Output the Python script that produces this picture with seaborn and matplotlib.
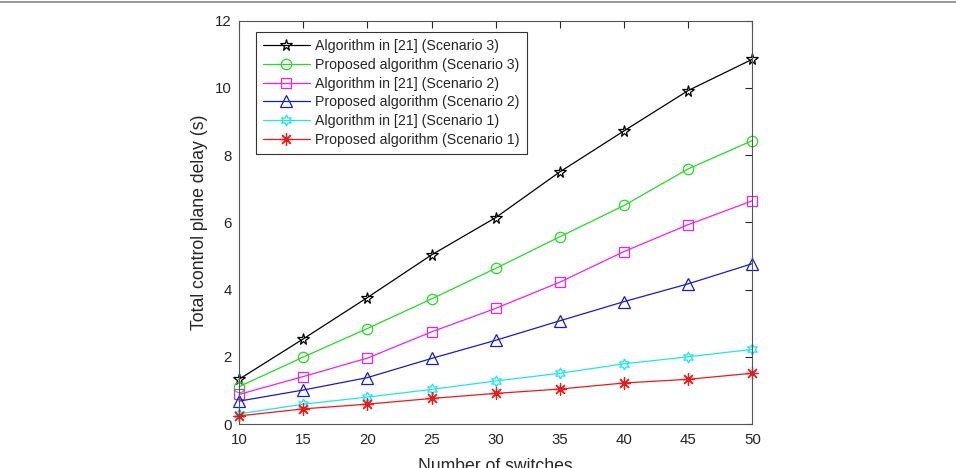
import numpy as np
import pandas as pd
import matplotlib
matplotlib.use("Agg")
import matplotlib.pyplot as plt
from matplotlib.lines import Line2D
import seaborn as sns

# data
switches = [10, 15, 20, 25, 30, 35, 40, 45, 50]
alg21_s3 = [1.33, 2.53, 3.76, 5.03, 6.14, 7.50, 8.72, 9.92, 10.85]
prop_s3 = [1.11, 1.99, 2.84, 3.72, 4.63, 5.57, 6.50, 7.59, 8.43]
alg21_s2 = [0.88, 1.41, 1.96, 2.74, 3.44, 4.22, 5.13, 5.93, 6.64]
prop_s2 = [0.68, 1.01, 1.38, 1.95, 2.49, 3.07, 3.64, 4.17, 4.77]
alg21_s1 = [0.30, 0.59, 0.80, 1.03, 1.28, 1.51, 1.79, 2.00, 2.22]
prop_s1 = [0.24, 0.45, 0.59, 0.76, 0.91, 1.04, 1.22, 1.33, 1.51]

labels = ['Algorithm in [21] (Scenario 3)', 'Proposed algorithm (Scenario 3)',
          'Algorithm in [21] (Scenario 2)', 'Proposed algorithm (Scenario 2)',
          'Algorithm in [21] (Scenario 1)', 'Proposed algorithm (Scenario 1)']
series = [alg21_s3, prop_s3, alg21_s2, prop_s2, alg21_s1, prop_s1]
colors = ['#000000', '#22dd22', '#ee22ee', '#1a1acc', '#22e5e5', '#ee1a1a']
# seaborn only accepts filled markers here; the line-art ones are swapped in afterwards
markers = ['*', 'o', 's', '^', 'h', 'D']
final_markers = ['*', 'o', 's', '^', (6, 1, 0), (8, 2, 0)]

# long-form table for seaborn
df = pd.concat([pd.DataFrame({'x': switches, 'y': s, 'name': lab})
                for s, lab in zip(series, labels)], ignore_index=True)

sns.set_style('white')
plt.rcParams['font.family'] = ['Liberation Sans', 'DejaVu Sans']

fig = plt.figure(figsize=(9.56, 4.68), dpi=100)
ax = fig.add_axes([0.250, 0.094, 0.537, 0.862])

sns.lineplot(data=df, x='x', y='y', hue='name', style='name',
             hue_order=labels, style_order=labels,
             palette=dict(zip(labels, colors)),
             markers=dict(zip(labels, markers)), dashes=False,
             linewidth=0.9, markersize=8, legend=False, ax=ax)

sizes = [8.5, 7.5, 6.5, 8.5, 8, 9]
for line, c, ms, mk in zip(ax.lines, colors, sizes, final_markers):
    line.set_marker(mk)
    line.set_markeredgecolor(c)
    line.set_markerfacecolor('none')
    line.set_markeredgewidth(0.9)
    line.set_markersize(ms)
    line.set_clip_on(False)

ax.set_xlim(10, 50)
ax.set_ylim(0, 12)
ax.set_xticks(switches)
ax.set_yticks(range(0, 13, 2))
ax.tick_params(direction='in', length=5, width=0.8, top=True, right=True,
               labelsize=10.8, colors='#262626')
ax.tick_params(axis='x', pad=6.5)
ax.tick_params(axis='y', pad=5)
for sp in ax.spines.values():
    sp.set_visible(True)
    sp.set_color('#555555')
    sp.set_linewidth(0.8)
ax.set_xlabel('Number of switches', fontsize=12.7, color='#262626', labelpad=8)
ax.set_ylabel('Total control plane delay (s)', fontsize=12.7, color='#262626', labelpad=5)

leg = ax.legend(handles=ax.lines, labels=labels, loc='upper left',
                bbox_to_anchor=(0.033, 0.972), borderaxespad=0, fontsize=10.2,
                handlelength=3.3, handletextpad=0.4, labelspacing=0.34,
                borderpad=0.5, frameon=True, fancybox=False)
leg.get_frame().set_edgecolor('#000000')
leg.get_frame().set_linewidth(0.8)

# thin gray rule along the top of the figure
fig.add_artist(Line2D([0, 1], [0.996, 0.996], transform=fig.transFigure,
                      color='#888888', linewidth=1.2))

fig.savefig('out.png', dpi=100)
